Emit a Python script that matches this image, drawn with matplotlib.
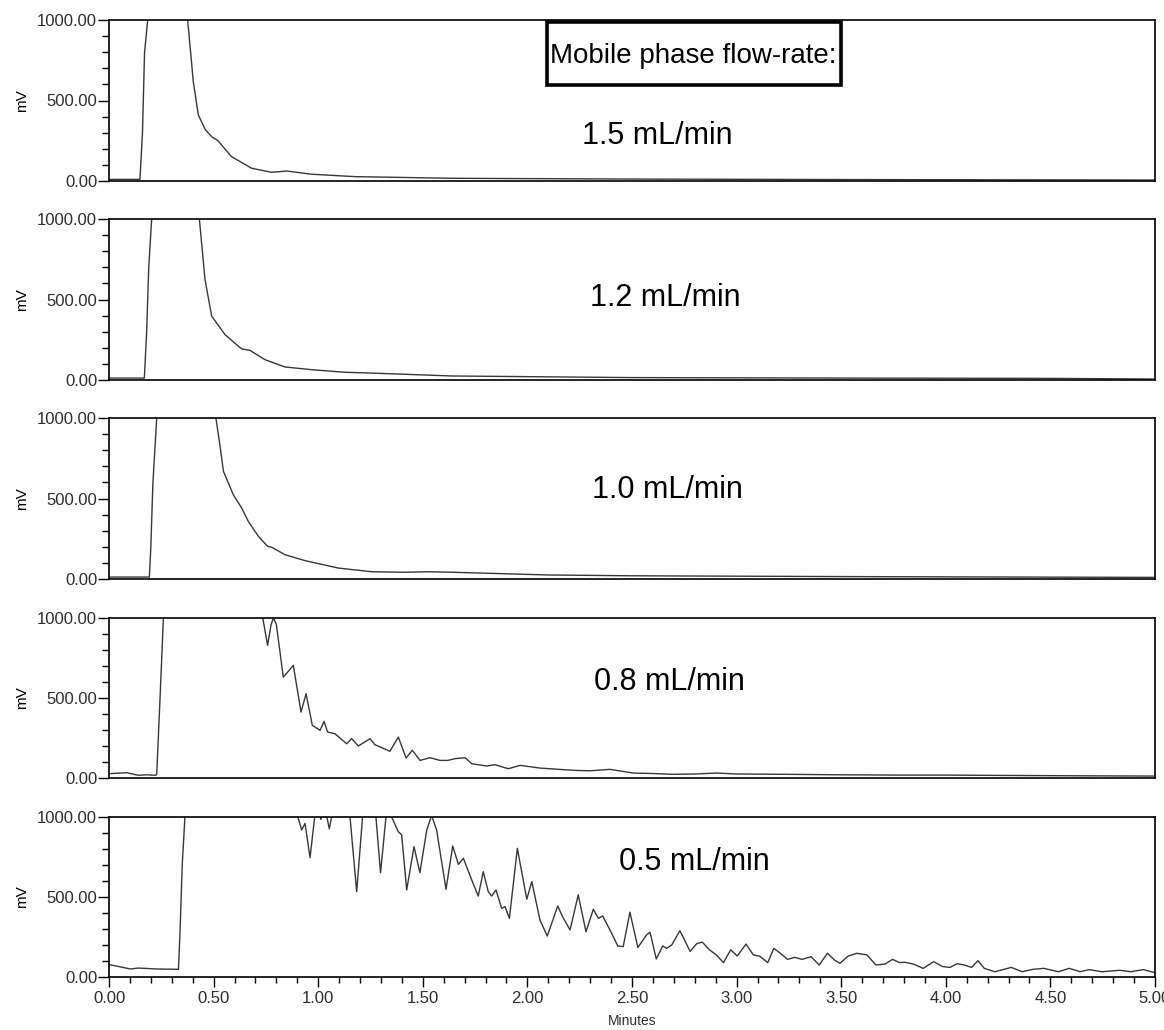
import matplotlib
matplotlib.use('Agg')
import matplotlib.pyplot as plt
from matplotlib.patches import Rectangle
from matplotlib.ticker import MultipleLocator, FormatStrFormatter

plt.rcParams['font.family'] = ['Liberation Sans', 'DejaVu Sans']

# chromatograms at five mobile-phase flow rates (time in min, signal in mV)
t_15 = [0.00, 0.148, 0.160, 0.170, 0.185, 0.200, 0.270, 0.350, 0.376, 0.403, 0.427, 0.460,
        0.491, 0.523, 0.550, 0.586, 0.682, 0.778, 0.849, 0.969, 1.176, 1.638, 2.50, 3.50, 5.00]
mv_15 = [10, 10, 300, 800, 1000, 1300, 1500, 1300, 1000, 617, 410, 320,
         275, 248, 205, 151, 79, 54, 62, 42, 27, 17, 12, 9, 6]

t_12 = [0.00, 0.169, 0.180, 0.190, 0.204, 0.220, 0.320, 0.410, 0.432, 0.459, 0.491, 0.555,
        0.634, 0.674, 0.746, 0.841, 0.969, 1.128, 1.256, 1.638, 2.50, 3.50, 4.50, 5.00]
mv_12 = [12, 12, 300, 700, 1000, 1300, 1500, 1250, 1000, 623, 396, 281,
         193, 184, 126, 81, 64, 48, 43, 25, 15, 12, 10, 6]

t_10 = [0.00, 0.193, 0.200, 0.210, 0.228, 0.250, 0.380, 0.490, 0.511, 0.531, 0.547, 0.594,
        0.634, 0.666, 0.714, 0.758, 0.778, 0.841, 0.937, 1.096, 1.256, 1.415, 1.527, 1.638,
        2.10, 2.50, 3.50, 5.00]
mv_10 = [12, 12, 200, 600, 1000, 1300, 1500, 1200, 1000, 824, 669, 524,
         441, 358, 265, 203, 197, 151, 114, 68, 45, 42, 45, 42,
         25, 20, 15, 10]

t_08 = [0.00, 0.040, 0.085, 0.140, 0.180, 0.220, 0.228, 0.244, 0.260, 0.280, 0.500, 0.700,
        0.735, 0.758, 0.775, 0.786, 0.800, 0.833, 0.854, 0.881, 0.918, 0.942, 0.972, 1.009,
        1.028, 1.045, 1.080, 1.136, 1.160, 1.192, 1.248, 1.271, 1.343, 1.383, 1.420, 1.450,
        1.487, 1.534, 1.582, 1.620, 1.654, 1.702, 1.734, 1.766, 1.805, 1.845, 1.909, 1.965,
        2.060, 2.140, 2.220, 2.300, 2.395, 2.506, 2.600, 2.697, 2.800, 2.905, 3.000, 3.239,
        3.500, 3.800, 4.000, 4.300, 4.600, 5.000]
mv_08 = [27, 30, 33, 17, 20, 17, 20, 500, 1000, 1400, 1600, 1200,
         1000, 829, 960, 1000, 960, 631, 662, 704, 412, 527, 329, 298,
         354, 287, 277, 214, 246, 200, 246, 208, 167, 256, 125, 173,
         110, 127, 110, 110, 121, 127, 89, 83, 75, 83, 58, 79,
         62, 55, 48, 45, 54, 31, 28, 23, 25, 31, 25, 23,
         20, 18, 18, 16, 14, 12]

t_05 = [0.000, 0.103, 0.140, 0.230, 0.320, 0.332, 0.340, 0.350, 0.363, 0.400, 0.600, 0.850,
        0.895, 0.905, 0.921, 0.937, 0.961, 0.985, 1.000, 1.013, 1.025, 1.040, 1.053, 1.070,
        1.120, 1.152, 1.184, 1.212, 1.240, 1.276, 1.298, 1.324, 1.340, 1.351, 1.383, 1.399,
        1.423, 1.458, 1.486, 1.519, 1.542, 1.566, 1.611, 1.643, 1.670, 1.694, 1.734, 1.765,
        1.789, 1.813, 1.829, 1.850, 1.877, 1.893, 1.914, 1.952, 1.997, 2.021, 2.060, 2.095,
        2.145, 2.168, 2.204, 2.243, 2.280, 2.315, 2.339, 2.360, 2.399, 2.432, 2.458, 2.490,
        2.528, 2.570, 2.586, 2.616, 2.647, 2.665, 2.690, 2.729, 2.778, 2.809, 2.836, 2.870,
        2.903, 2.937, 2.972, 3.003, 3.045, 3.080, 3.110, 3.149, 3.178, 3.209, 3.244, 3.278,
        3.313, 3.356, 3.395, 3.434, 3.468, 3.494, 3.533, 3.575, 3.623, 3.666, 3.710, 3.745,
        3.779, 3.805, 3.845, 3.892, 3.942, 3.985, 4.020, 4.054, 4.089, 4.123, 4.154, 4.184,
        4.235, 4.313, 4.365, 4.417, 4.469, 4.538, 4.590, 4.642, 4.685, 4.746, 4.832, 4.884,
        4.945, 5.000]
mv_05 = [78, 50, 56, 50, 48, 48, 300, 700, 1000, 1400, 1600, 1300,
         1050, 990, 919, 960, 746, 1020, 1040, 985, 1040, 1010, 927, 1040,
         1100, 1000, 533, 1000, 1100, 1000, 652, 1000, 1050, 1000, 908, 888,
         544, 815, 652, 919, 1010, 919, 548, 819, 704, 742, 606, 506,
         658, 533, 506, 544, 429, 440, 367, 804, 486, 596, 356, 256,
         444, 377, 294, 513, 283, 423, 367, 381, 283, 194, 190, 405,
         185, 263, 280, 113, 194, 179, 200, 289, 160, 208, 218, 170,
         138, 90, 170, 131, 206, 138, 130, 90, 179, 148, 110, 123,
         110, 127, 75, 148, 106, 85, 131, 148, 138, 75, 81, 110,
         90, 92, 81, 54, 96, 65, 60, 83, 75, 60, 102, 54,
         33, 60, 33, 48, 54, 33, 54, 33, 46, 33, 42, 33,
         46, 27]

series = [(t_15, mv_15), (t_12, mv_12), (t_10, mv_10), (t_08, mv_08), (t_05, mv_05)]
flow_labels = ['1.5 mL/min', '1.2 mL/min', '1.0 mL/min', '0.8 mL/min', '0.5 mL/min']
label_pos = [(2.62, 280), (2.66, 509), (2.67, 553), (2.68, 600), (2.80, 719)]

W, H = 1164, 1030
fig = plt.figure(figsize=(W / 100, H / 100), dpi=100)

# panel top/bottom edges in pixels
edges = [(20, 181), (219, 380), (418, 579), (618, 778), (817, 977)]
left, right = 109, 1155
tick_col = '#2e2e2e'

axes = []
for i, ((tp, bt), (t, mv)) in enumerate(zip(edges, series)):
    ax = fig.add_axes([left / W, 1 - bt / H, (right - left) / W, (bt - tp) / H])
    ax.plot(t, mv, color='#383838', lw=1.0, solid_joinstyle='round')
    ax.set_xlim(0, 5)
    ax.set_ylim(0, 1000)
    ax.yaxis.set_major_locator(MultipleLocator(500))
    ax.yaxis.set_minor_locator(MultipleLocator(100))
    ax.yaxis.set_major_formatter(FormatStrFormatter('%.2f'))
    ax.tick_params(axis='y', which='major', length=8, width=1, pad=0.5,
                   labelsize=12, labelcolor=tick_col)
    ax.tick_params(axis='y', which='minor', length=5, width=1)
    ax.set_ylabel('mV', fontsize=11, labelpad=6)
    for s in ax.spines.values():
        s.set_linewidth(1.2)
    ax.text(*label_pos[i], flow_labels[i], fontsize=22, ha='center', va='center')
    if i < 4:
        ax.set_xticks([])
    else:
        ax.xaxis.set_major_locator(MultipleLocator(0.5))
        ax.xaxis.set_minor_locator(MultipleLocator(0.1))
        ax.xaxis.set_major_formatter(FormatStrFormatter('%.2f'))
        ax.tick_params(axis='x', which='major', length=7, width=1, pad=3,
                       labelsize=12, labelcolor=tick_col)
        ax.tick_params(axis='x', which='minor', length=4, width=1)
        ax.set_xlabel('Minutes', fontsize=10, color=tick_col, labelpad=6)
    axes.append(ax)

# title box in the top panel
top = axes[0]
top.add_patch(Rectangle((2.092, 596), 1.406, 393, fill=True, fc='white',
                        ec='black', lw=2.6, clip_on=False, zorder=3))
top.text(2.792, 731, 'Mobile phase flow-rate:', fontsize=20, ha='center',
         va='baseline', zorder=4)

fig.savefig('out.png', dpi=100)
